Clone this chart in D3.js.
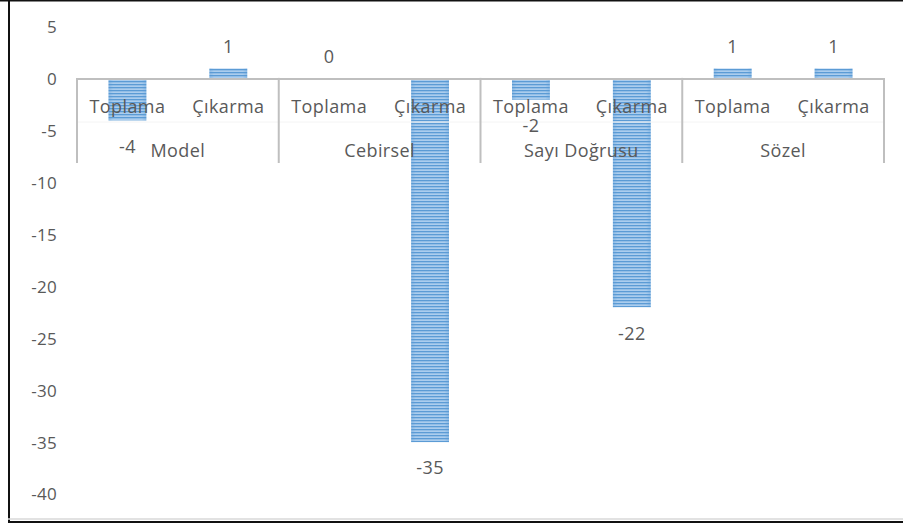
<!DOCTYPE html>
<html>
<head>
<meta charset="utf-8">
<script src="https://cdn.jsdelivr.net/npm/d3@7"></script>
<style>
  html, body { margin: 0; padding: 0; background: #fff; }
  svg { display: block; }
  text { font-family: "Open Sans", "Noto Sans", sans-serif; fill: #595959; }
</style>
</head>
<body>
<svg id="chart" width="903" height="526"></svg>
<script>
// Group (outer) categories and their sub-categories
const groups = ["Model", "Cebirsel", "Sayı Doğrusu", "Sözel"];
const subs = ["Toplama", "Çıkarma"];
// Values per group, in the order of `subs`
const toplama = [-4, 0, -2, 1];
const cikarma = [1, -35, -22, 1];
const yTicks = [5, 0, -5, -10, -15, -20, -25, -30, -35, -40];

const rows = [];
groups.forEach((g, i) => {
  rows.push({ group: g, sub: subs[0], value: toplama[i] });
  rows.push({ group: g, sub: subs[1], value: cikarma[i] });
});

const svg = d3.select("#chart");
const W = 903, H = 526;

// Frame
svg.append("rect").attr("x", 0).attr("y", 0).attr("width", W).attr("height", H).attr("fill", "#fff");
svg.append("line").attr("x1", 0).attr("x2", W).attr("y1", 0.75).attr("y2", 0.75)
  .attr("stroke", "#111").attr("stroke-width", 1.5);
svg.append("line").attr("x1", 9).attr("x2", 9).attr("y1", 0).attr("y2", 523)
  .attr("stroke", "#111").attr("stroke-width", 2);
svg.append("line").attr("x1", 8).attr("x2", W).attr("y1", 519).attr("y2", 519)
  .attr("stroke", "#d9d9d9").attr("stroke-width", 1.5);
svg.append("line").attr("x1", 8).attr("x2", W).attr("y1", 522).attr("y2", 522)
  .attr("stroke", "#111").attr("stroke-width", 2);

// Striped bar fill
const defs = svg.append("defs");
const pat = defs.append("pattern").attr("id", "stripes")
  .attr("patternUnits", "userSpaceOnUse").attr("width", 8).attr("height", 3);
pat.append("rect").attr("width", 8).attr("height", 3).attr("fill", "#abcdee");
pat.append("rect").attr("width", 8).attr("height", 1.3).attr("fill", "#5b9bd5");
const edge = defs.append("linearGradient").attr("id", "edge").attr("x1", 0).attr("x2", 1);
edge.append("stop").attr("offset", 0).attr("stop-color", "#5b9bd5").attr("stop-opacity", 0.35);
edge.append("stop").attr("offset", 0.12).attr("stop-color", "#5b9bd5").attr("stop-opacity", 0);
edge.append("stop").attr("offset", 0.88).attr("stop-color", "#5b9bd5").attr("stop-opacity", 0);
edge.append("stop").attr("offset", 1).attr("stop-color", "#5b9bd5").attr("stop-opacity", 0.35);

// Scales
const y = d3.scaleLinear().domain([-40, 5]).range([494, 27]);
const x0 = d3.scaleBand().domain(groups).range([77, 884]).padding(0);
const x1 = d3.scaleBand().domain(subs).range([0, x0.bandwidth()]).padding(0);
const barW = x1.bandwidth() * 0.375;
const y0 = y(0);

// Y axis labels (no axis line, no gridlines)
const yAxis = d3.axisLeft(y).tickValues(yTicks).tickSize(0).tickPadding(0)
  .tickFormat(d => d3.format("d")(d).replace("−", "-"));
const gy = svg.append("g").attr("transform", "translate(57,0)").call(yAxis);
gy.select(".domain").remove();
gy.selectAll("text").attr("font-size", 17).attr("fill", "#595959")
  .style("font-family", '"Open Sans", sans-serif').attr("dy", "0.35em")
  .style("letter-spacing", "0.3px");

// Bars
const barX = d => x0(d.group) + x1(d.sub) + x1.bandwidth() / 2 - barW / 2;
const bars = svg.append("g");
bars.selectAll("rect.bar").data(rows.filter(d => d.value !== 0)).join("rect")
  .attr("class", "bar")
  .attr("x", barX)
  .attr("y", d => Math.min(y(d.value), y0))
  .attr("width", barW)
  .attr("height", d => Math.abs(y(d.value) - y0))
  .attr("fill", "url(#stripes)");
bars.selectAll("rect.edge").data(rows.filter(d => d.value !== 0)).join("rect")
  .attr("class", "edge")
  .attr("x", barX)
  .attr("y", d => Math.min(y(d.value), y0))
  .attr("width", barW)
  .attr("height", d => Math.abs(y(d.value) - y0))
  .attr("fill", "url(#edge)");

// Category axis: baseline, group dividers, level separator
const axisG = svg.append("g");
axisG.append("line").attr("x1", 77).attr("x2", 884).attr("y1", y0).attr("y2", y0)
  .attr("stroke", "#bfbfbf").attr("stroke-width", 2);
axisG.append("line").attr("x1", 77).attr("x2", 884).attr("y1", 122).attr("y2", 122)
  .attr("stroke", "#f4f4f4").attr("stroke-width", 1);
const dividers = groups.map(g => x0(g)).concat([x0.range()[1]]);
axisG.selectAll("line.div").data(dividers).join("line").attr("class", "div")
  .attr("x1", d => d).attr("x2", d => d).attr("y1", y0 - 1).attr("y2", 163)
  .attr("stroke", "#bfbfbf").attr("stroke-width", 2);

const labelStyle = sel => sel.attr("text-anchor", "middle").attr("font-size", 18)
  .style("letter-spacing", "0.4px").attr("dy", "0.35em");

// Sub-category labels
svg.append("g").selectAll("text").data(rows).join("text")
  .attr("x", d => x0(d.group) + x1(d.sub) + x1.bandwidth() / 2)
  .attr("y", 107).call(labelStyle)
  .text(d => d.sub);

// Group labels
svg.append("g").selectAll("text").data(groups).join("text")
  .attr("x", d => x0(d) + x0.bandwidth() / 2)
  .attr("y", 151).call(labelStyle)
  .text(d => d);

// Data labels
svg.append("g").selectAll("text").data(rows).join("text")
  .attr("x", d => x0(d.group) + x1(d.sub) + x1.bandwidth() / 2)
  .attr("y", d => d.value >= 0 ? y(d.value) - 22 : y(d.value) + 26)
  .call(labelStyle)
  .text(d => d3.format("d")(d.value).replace("−", "-"));
</script>
</body>
</html>
